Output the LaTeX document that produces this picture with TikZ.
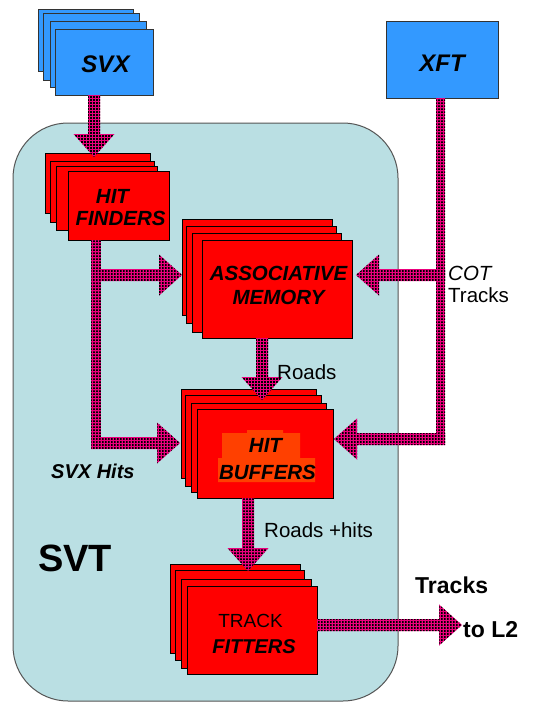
\documentclass[tikz,border=0pt]{standalone}
\usepackage{fontspec}
\setmainfont{Liberation Sans}
\usetikzlibrary{calc,patterns}
\pgfdeclarepatternformonly{flowdots}{\pgfpointorigin}{\pgfpoint{3pt}{3pt}}{\pgfpoint{3pt}{3pt}}{%
  \pgfpathrectangle{\pgfpointorigin}{\pgfpoint{2.3pt}{2.3pt}}\pgfusepath{fill}}
\definecolor{boxred}{RGB}{255,0,0}
\definecolor{boxblue}{RGB}{51,153,255}
\definecolor{svtbg}{RGB}{186,223,227}
\definecolor{svtline}{RGB}{85,85,85}
\definecolor{hilite}{RGB}{255,64,0}
\definecolor{flowpink}{RGB}{235,0,125}
\newcommand\fw{6}
\newcommand\fh{20.5}
\newcommand\fl{23}
\newcommand\layer[6]{\node[#6, anchor=north west, minimum width={(#4-#2)*1pt}, minimum height={(#5-#3)*1pt}] (#1) at (#2,#3) {};}
\newcommand\flowdown[2]{\fill[flow] ($#1+(-\fw,0)$) -- ($#2+(-\fw,-\fl)$) -- ($#2+(-\fh,-\fl)$) -- #2 -- ($#2+(\fh,-\fl)$) -- ($#2+(\fw,-\fl)$) -- ($#1+(\fw,0)$) -- cycle;}
\newcommand\flowright[2]{\fill[flow] ($#1+(0,-\fw)$) -- ($#2+(-\fl,-\fw)$) -- ($#2+(-\fl,-\fh)$) -- #2 -- ($#2+(-\fl,\fh)$) -- ($#2+(-\fl,\fw)$) -- ($#1+(0,\fw)$) -- cycle;}
\newcommand\flowleft[2]{\fill[flow] ($#1+(0,-\fw)$) -- ($#2+(\fl,-\fw)$) -- ($#2+(\fl,-\fh)$) -- #2 -- ($#2+(\fl,\fh)$) -- ($#2+(\fl,\fw)$) -- ($#1+(0,\fw)$) -- cycle;}
\newcommand\flowbar[3]{\fill[flow] ($#1+(-#3,0)$) rectangle ($#2+(#3,0)$);}
\begin{document}
\begin{tikzpicture}[x=1pt,y=-1pt,
  redbox/.style={draw=black, line width=0.9pt, fill=boxred, inner sep=0pt, outer sep=0pt},
  bluebox/.style={draw=black!80, line width=0.9pt, fill=boxblue, inner sep=0pt, outer sep=0pt},
  flow/.style={fill=flowpink, postaction={pattern=flowdots, pattern color=black}},
  boxtxt/.style={inner sep=0pt, anchor=base, font=\fontsize{20.5}{24}\selectfont\bfseries\itshape},
  lbl/.style={inner sep=0pt, anchor=base west, font=\fontsize{20.5}{24}\selectfont},
  bigtxt/.style={inner sep=0pt, anchor=base west, font=\fontsize{23}{27}\selectfont\bfseries}]
\useasboundingbox (0,0) rectangle (547,704);
\fill[white] (0,0) rectangle (547,704);
% SVT frame
\draw[svtline, line width=1pt, fill=svtbg, rounded corners=55] (13,123) rectangle (398,701);
% SVX stack
\layer{svx3}{38}{9}{133}{71}{bluebox}
\layer{svx2}{43}{13}{139}{80}{bluebox}
\layer{svx1}{50}{21}{146}{87}{bluebox}
\layer{svx}{55}{29}{153}{95}{bluebox}
% XFT
\layer{xft}{386}{21}{498}{98}{bluebox}
% HIT FINDERS
\layer{hf3}{45}{153}{150}{213}{redbox}
\layer{hf2}{50}{161}{154}{222}{redbox}
\layer{hf1}{56}{166}{157}{230}{redbox}
\layer{hf}{68}{171}{169}{240}{redbox}
% ASSOCIATIVE MEMORY
\layer{am3}{182}{219}{332}{315}{redbox}
\layer{am2}{186}{226}{336}{323}{redbox}
\layer{am1}{192}{233}{341}{332}{redbox}
\layer{am}{202}{240}{352}{338}{redbox}
% HIT BUFFERS
\layer{hb3}{181}{389}{316}{478}{redbox}
\layer{hb2}{185}{395}{321}{486}{redbox}
\layer{hb1}{191}{403}{326}{492}{redbox}
\layer{hb}{197}{409}{333}{498}{redbox}
\fill[hilite] (218,482) -- (218,458) -- (222,458) -- (222,433) -- (247,433) -- (247,430) -- (283,430) -- (283,433) -- (300,433) -- (300,458) -- (315,458) -- (315,482) -- cycle;
% TRACK FITTERS
\layer{tf3}{170}{564}{300}{653}{redbox}
\layer{tf2}{175}{570}{304}{660}{redbox}
\layer{tf1}{181}{579}{311}{668}{redbox}
\layer{tf}{187}{586}{317}{674}{redbox}
% helper coordinates
\coordinate (sx) at (94,0);
\coordinate (hfx) at (96,0);
\coordinate (hfbot) at (96,449);
\coordinate (hj1) at (91,275);
\coordinate (hj2) at (91,443);
\coordinate (xftx) at (440.5,0);
\coordinate (xbot) at (440.5,444);
\coordinate (xj1) at (445,275);
\coordinate (xj2) at (445,439);
\coordinate (rx) at (262,0);
\coordinate (rhx) at (248,0);
\coordinate (ly) at (0,625);
\coordinate (l2) at (462,625);
\coordinate (s1) at (svx.south -| sx);
\coordinate (t1) at ($(hf3.north -| sx)+(0,4)$);
\coordinate (h0) at (hf.south -| hfx);
\coordinate (t2) at (am3.west |- hj1);
\coordinate (t3) at ($(hb3.west |- hj2)+(-1,0)$);
\coordinate (x0) at (xft.south -| xftx);
\coordinate (t4) at ($(am.east |- xj1)+(4,0)$);
\coordinate (t5) at ($(hb.east |- xj2)+(1,0)$);
\coordinate (r0) at (am.south -| rx);
\coordinate (t6) at ($(hb3.north -| rx)+(0,11)$);
\coordinate (rh0) at (hb.south -| rhx);
\coordinate (t7) at ($(tf3.north -| rhx)+(0,7)$);
\coordinate (f0) at (tf.east |- ly);
% flows
\flowdown{(s1)}{(t1)}
\flowbar{(h0)}{(hfbot)}{5}
\flowright{(hj1)}{(t2)}
\flowright{(hj2)}{(t3)}
\flowbar{(x0)}{(xbot)}{4.5}
\flowleft{(xj1)}{(t4)}
\flowleft{(xj2)}{(t5)}
\flowdown{(r0)}{(t6)}
\flowdown{(rh0)}{(t7)}
\flowright{(f0)}{(l2)}
% texts
\node[boxtxt, font=\fontsize{24}{28}\selectfont\bfseries\itshape] (tsvx) at (105.5,72) {SVX};
\node[boxtxt, font=\fontsize{24}{28}\selectfont\bfseries\itshape] (txft) at (442,71) {XFT};
\node[boxtxt] (thf1) at (112.5,203) {HIT};
\node[boxtxt] (thf2) at (120.5,225) {FINDERS};
\node[boxtxt] (tam1) at (278.5,280) {ASSOCIATIVE};
\node[boxtxt] (tam2) at (278.5,304) {MEMORY};
\node[boxtxt] (thb1) at (265.5,452) {HIT};
\node[boxtxt] (thb2) at (267.5,479) {BUFFERS};
\node[boxtxt, font=\fontsize{19}{23}\selectfont] (ttf1) at (250.5,627) {TRACK};
\node[boxtxt, font=\fontsize{20}{24}\selectfont\bfseries\itshape] (ttf2) at (254,653) {FITTERS};
\node[inner sep=0pt, anchor=base, font=\fontsize{38}{44}\selectfont\bfseries] (tsvt) at (75,571) {SVT};
\node[lbl] (troads) at (277,379) {Roads};
\node[lbl] (troadsh) at (264,537) {Roads +hits};
\node[lbl, font=\fontsize{20.5}{24}\selectfont\itshape] (tcot) at (448,280) {COT};
\node[lbl] (tcott) at (448,302) {Tracks};
\node[lbl, font=\fontsize{20}{24}\selectfont\bfseries\itshape] (tsvxh) at (51,478) {SVX Hits};
\node[bigtxt] (ttr) at (415,593) {Tracks};
\node[bigtxt] (tl2) at (463,637) {to L2};
\end{tikzpicture}
\end{document}
